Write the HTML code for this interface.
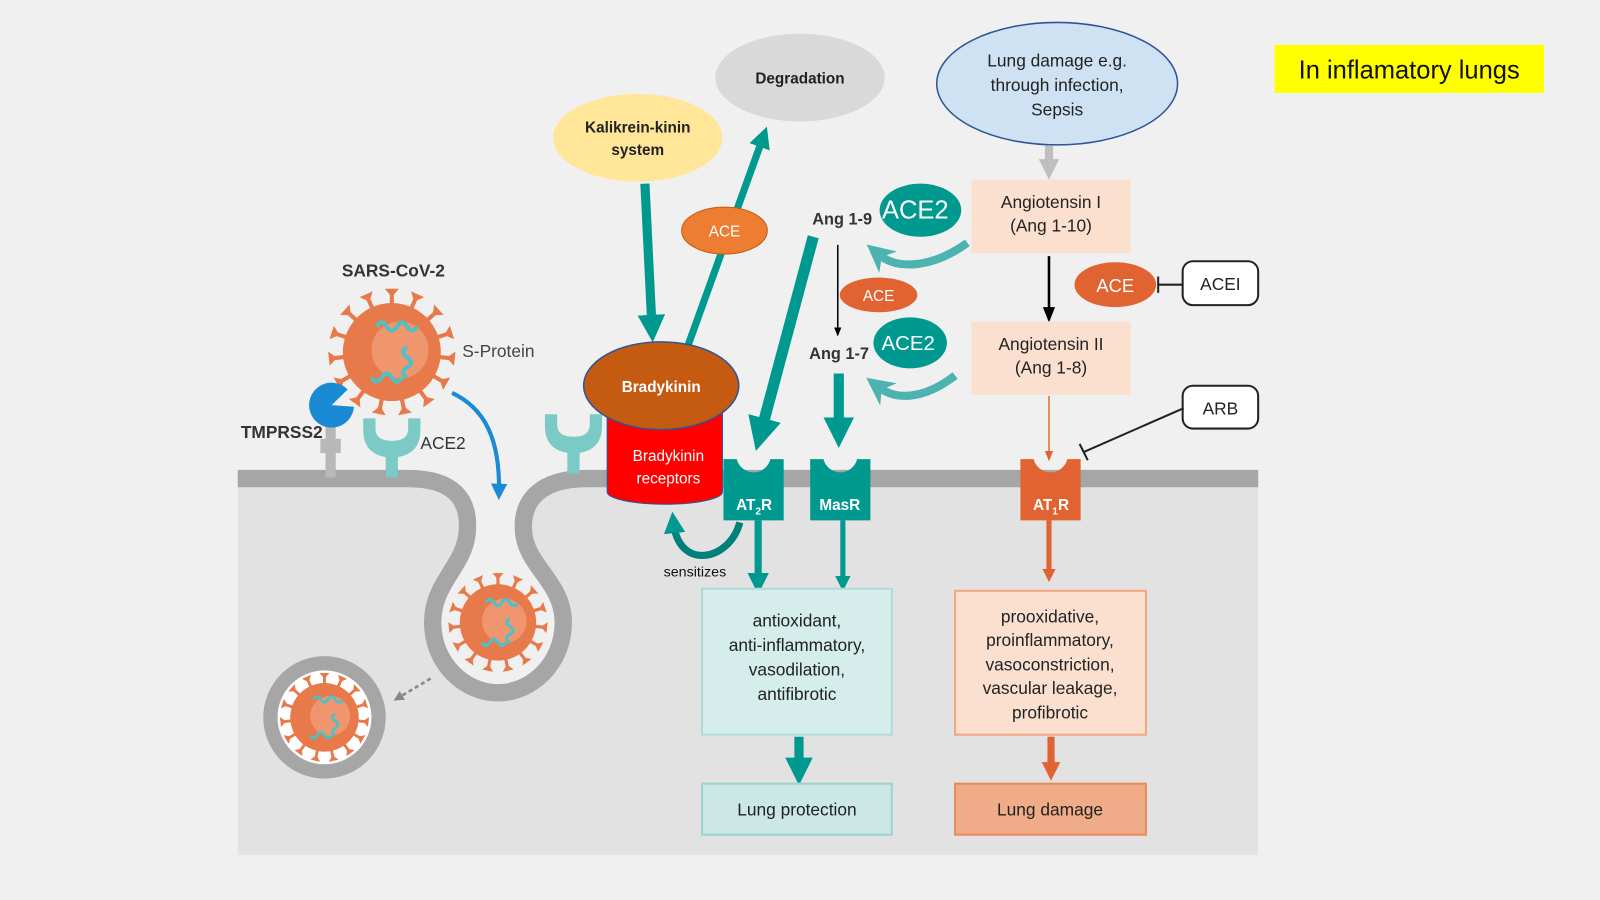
<!DOCTYPE html>
<html><head><meta charset="utf-8"><style>
html,body{margin:0;padding:0;background:#f0f0f0;}
svg{display:block;font-family:"Liberation Sans",sans-serif;}
</style></head><body>
<svg width="1600" height="900" viewBox="0 0 1568 882" xmlns="http://www.w3.org/2000/svg">
<defs>
<marker id="mt" viewBox="0 0 10 10" refX="5" refY="5" markerWidth="3" markerHeight="3" orient="auto"><path d="M0,0 L10,5 L0,10 z" fill="#00998f"/></marker>
<marker id="mlt" viewBox="0 0 10 10" refX="4" refY="5" markerWidth="3.4" markerHeight="3.4" orient="auto"><path d="M0,0 L10,5 L0,10 L3,5 z" fill="#4db3b0"/></marker>
<marker id="mk" viewBox="0 0 10 10" refX="8" refY="5" markerWidth="6" markerHeight="6" orient="auto"><path d="M0,1 L10,5 L0,9 z" fill="#000"/></marker>
<marker id="mo" viewBox="0 0 10 10" refX="8" refY="5" markerWidth="5" markerHeight="5" orient="auto"><path d="M0,1 L10,5 L0,9 z" fill="#e06331"/></marker>
<marker id="mob" viewBox="0 0 10 10" refX="5" refY="5" markerWidth="2.6" markerHeight="2.6" orient="auto"><path d="M0,0 L10,5 L0,10 z" fill="#e06331"/></marker>
<marker id="mg" viewBox="0 0 10 10" refX="5" refY="5" markerWidth="2.5" markerHeight="2.5" orient="auto"><path d="M0,0 L10,5 L0,10 z" fill="#bfbfbf"/></marker>
<marker id="mb" viewBox="0 0 10 10" refX="5" refY="5" markerWidth="4" markerHeight="4" orient="auto"><path d="M0,0 L10,5 L0,10 z" fill="#1a8ad4"/></marker>
<marker id="md" viewBox="0 0 10 10" refX="5" refY="5" markerWidth="4" markerHeight="4" orient="auto"><path d="M0,0 L10,5 L0,10 z" fill="#888"/></marker>
<g id="spike"><line x1="0" y1="0" x2="0" y2="-60" stroke="#e8794a" stroke-width="4"/><path d="M-7,-62 L7,-62 L0,-54 z" fill="#e8794a"/></g>
<g id="virus">
<use href="#spike"/><use href="#spike" transform="rotate(24)"/><use href="#spike" transform="rotate(48)"/><use href="#spike" transform="rotate(72)"/><use href="#spike" transform="rotate(96)"/><use href="#spike" transform="rotate(120)"/><use href="#spike" transform="rotate(144)"/><use href="#spike" transform="rotate(168)"/><use href="#spike" transform="rotate(192)"/><use href="#spike" transform="rotate(216)"/><use href="#spike" transform="rotate(240)"/><use href="#spike" transform="rotate(264)"/><use href="#spike" transform="rotate(288)"/><use href="#spike" transform="rotate(312)"/><use href="#spike" transform="rotate(336)"/>
<circle r="48" fill="#e8794a"/>
<circle cx="8" cy="-2" r="28" fill="#f3a27d" opacity="0.7"/>
<path d="M-15,-25 q5,-8 10,0 q5,8 10,0 q5,-8 10,0 q5,8 10,0 M15,-5 q-8,5 0,10 q8,5 0,10 q-8,5 0,10 M10,25 q-5,8 -10,0 q-5,-8 -10,0 q-5,8 -10,0" fill="none" stroke="#4fc1c6" stroke-width="4"/>
</g>
<g id="recY"><path d="M-28,-22 L-16,-22 L-16,-12 Q-16,0 0,0 Q16,0 16,-12 L16,-22 L28,-22 L28,-10 Q28,12 6,16 L6,36 L-6,36 L-6,16 Q-28,12 -28,-10 z" fill="#7ccac6"/></g>
</defs>

<rect width="1568" height="882" fill="#f0f0f0"/>
<rect x="233" y="465" width="1000" height="373" fill="#e2e2e2"/>
<path d="M233,460 L400,460 C445,469 460,490 458,520 C456,555 424,570 424,610 C424,650 455,679 488,679 C521,679 552,650 552,610 C552,570 515,555 513,520 C511,490 530,460 575,460 L1233,460 L1233,440 L233,440 z" fill="#f0f0f0"/>
<path d="M233,469 L400,469 C445,469 460,490 458,520 C456,555 424,570 424,610 C424,650 455,679 488,679 C521,679 552,650 552,610 C552,570 515,555 513,520 C511,490 530,469 575,469 L1233,469" fill="none" stroke="#a6a6a6" stroke-width="17"/>

<!-- viruses -->
<use href="#virus" transform="translate(384,345)"/>
<g transform="translate(488,610) scale(0.78)"><use href="#virus"/></g>
<circle cx="318" cy="703" r="53" fill="#fff" stroke="#a6a6a6" stroke-width="14"/>
<g transform="translate(318,703) scale(0.7)"><use href="#virus"/></g>
<line x1="422" y1="665" x2="390" y2="684" stroke="#888" stroke-width="2.5" stroke-dasharray="4,3" marker-end="url(#md)"/>

<!-- receptors left -->
<rect x="319" y="418" width="10" height="50" fill="#b8b8b8"/><rect x="314" y="430" width="20" height="14" fill="#b8b8b8"/>
<path d="M325,397 L345,388 A22,22 0 1 0 345,406 z" fill="#1a8ad4" transform="rotate(-20 325 397)"/>
<use href="#recY" transform="translate(384,432)"/>
<use href="#recY" transform="translate(562,428)"/>
<text x="335" y="271" font-size="17" font-weight="bold" fill="#333">SARS-CoV-2</text>
<text x="453" y="350" font-size="17" fill="#444">S-Protein</text>
<text x="236" y="429" font-size="17" font-weight="bold" fill="#333">TMPRSS2</text>
<text x="412" y="440" font-size="17" fill="#333">ACE2</text>
<path d="M443,385 C475,400 490,430 489,482" fill="none" stroke="#1a8ad4" stroke-width="4" marker-end="url(#mb)"/>

<!-- top ellipses -->
<ellipse cx="784" cy="76" rx="83" ry="43" fill="#d9d9d9"/>
<text x="784" y="82" font-size="15" font-weight="bold" text-anchor="middle" fill="#222">Degradation</text>
<ellipse cx="625" cy="135" rx="83" ry="43" fill="#ffe699"/>
<text x="625" y="130" font-size="15" font-weight="bold" text-anchor="middle" fill="#222">Kalikrein-kinin</text>
<text x="625" y="152" font-size="15" font-weight="bold" text-anchor="middle" fill="#222">system</text>
<ellipse cx="1036" cy="82" rx="118" ry="60" fill="#cfe2f3" stroke="#2f5597" stroke-width="1.5"/>
<text x="1036" y="65" font-size="17" text-anchor="middle" fill="#222">Lung damage e.g.</text>
<text x="1036" y="89" font-size="17" text-anchor="middle" fill="#222">through infection,</text>
<text x="1036" y="113" font-size="17" text-anchor="middle" fill="#222">Sepsis</text>
<rect x="1249" y="44" width="264" height="47" fill="#ffff00"/>
<text x="1381" y="77" font-size="25" text-anchor="middle" fill="#111">In inflamatory lungs</text>

<!-- kinin arrows -->
<line x1="632" y1="180" x2="639" y2="322" stroke="#00998f" stroke-width="9" marker-end="url(#mt)"/>
<line x1="673" y1="342" x2="748" y2="134" stroke="#00998f" stroke-width="7" marker-end="url(#mt)"/>
<ellipse cx="710" cy="226" rx="42" ry="23" fill="#ed7d31" stroke="#c55a11"/>
<text x="710" y="232" font-size="15" text-anchor="middle" fill="#fff">ACE</text>

<!-- Bradykinin -->
<path d="M595,405 L595,482 A56,12 0 0 0 708,482 L708,405 z" fill="#ff0000" stroke="#2f5597" stroke-width="1"/>
<ellipse cx="648" cy="378" rx="76" ry="43" fill="#c55a11" stroke="#2f5597" stroke-width="1.5"/>
<text x="648" y="384" font-size="15" font-weight="bold" text-anchor="middle" fill="#fff">Bradykinin</text>
<text x="655" y="452" font-size="15" text-anchor="middle" fill="#fff">Bradykinin</text>
<text x="655" y="474" font-size="15" text-anchor="middle" fill="#fff">receptors</text>

<!-- big teal arrow to AT2R -->
<line x1="797" y1="232" x2="745" y2="426" stroke="#00998f" stroke-width="11" marker-end="url(#mt)"/>
<!-- Ang side -->
<text x="796" y="220" font-size="16" font-weight="bold" fill="#333">Ang 1-9</text>
<ellipse cx="902" cy="206" rx="40" ry="26" fill="#00998f"/>
<text x="897" y="214" font-size="25" text-anchor="middle" fill="#fff">ACE2</text>
<line x1="821" y1="240" x2="821" y2="328" stroke="#000" stroke-width="1.5" marker-end="url(#mk)"/>
<ellipse cx="861" cy="289" rx="38" ry="17" fill="#e06331"/>
<text x="861" y="295" font-size="15" text-anchor="middle" fill="#fff">ACE</text>
<text x="793" y="352" font-size="16" font-weight="bold" fill="#333">Ang 1-7</text>
<ellipse cx="892" cy="336" rx="36" ry="25" fill="#00998f"/>
<text x="890" y="343" font-size="20" text-anchor="middle" fill="#fff">ACE2</text>
<path d="M948,238 C915,262 880,265 862,250" fill="none" stroke="#4db3b0" stroke-width="8" marker-end="url(#mlt)"/>
<path d="M936,368 C905,392 878,392 862,380" fill="none" stroke="#4db3b0" stroke-width="8" marker-end="url(#mlt)"/>
<line x1="822" y1="366" x2="822" y2="424" stroke="#00998f" stroke-width="10" marker-end="url(#mt)"/>

<!-- RAS -->
<line x1="1028" y1="143" x2="1028" y2="166" stroke="#bfbfbf" stroke-width="8" marker-end="url(#mg)"/>
<rect x="952" y="176" width="156" height="72" fill="#fbe0d0"/>
<text x="1030" y="204" font-size="17" text-anchor="middle" fill="#222">Angiotensin I</text>
<text x="1030" y="227" font-size="17" text-anchor="middle" fill="#222">(Ang 1-10)</text>
<line x1="1028" y1="251" x2="1028" y2="313" stroke="#000" stroke-width="2.5" marker-end="url(#mk)"/>
<rect x="952" y="315" width="156" height="72" fill="#fbe0d0"/>
<text x="1030" y="343" font-size="17" text-anchor="middle" fill="#222">Angiotensin II</text>
<text x="1030" y="366" font-size="17" text-anchor="middle" fill="#222">(Ang 1-8)</text>
<ellipse cx="1093" cy="279" rx="40" ry="22" fill="#e06331"/>
<text x="1093" y="286" font-size="18" text-anchor="middle" fill="#fff">ACE</text>
<line x1="1135" y1="279" x2="1159" y2="279" stroke="#222" stroke-width="2"/><line x1="1135" y1="271" x2="1135" y2="287" stroke="#222" stroke-width="2"/>
<rect x="1159" y="256" width="74" height="43" rx="10" fill="#fff" stroke="#222" stroke-width="2"/>
<text x="1196" y="284" font-size="17" text-anchor="middle" fill="#222">ACEI</text>
<rect x="1159" y="378" width="74" height="42" rx="10" fill="#fff" stroke="#222" stroke-width="2"/>
<text x="1196" y="406" font-size="17" text-anchor="middle" fill="#222">ARB</text>
<line x1="1160" y1="400" x2="1062" y2="443" stroke="#222" stroke-width="2"/>
<line x1="1058" y1="435" x2="1066" y2="451" stroke="#222" stroke-width="2"/>
<line x1="1028" y1="388" x2="1028" y2="450" stroke="#e88a5a" stroke-width="2" marker-end="url(#mo)"/>

<!-- receptors -->
<path d="M709,450 L722,450 A17,17 0 0 0 755,450 L768,450 L768,510 L709,510 z" fill="#00998f"/>
<text x="739" y="500" font-size="15" font-weight="bold" text-anchor="middle" fill="#fff">AT<tspan font-size="10" dy="4">2</tspan><tspan dy="-4">R</tspan></text>
<path d="M794,450 L807,450 A17,17 0 0 0 840,450 L853,450 L853,510 L794,510 z" fill="#00998f"/>
<text x="823" y="500" font-size="15" font-weight="bold" text-anchor="middle" fill="#fff">MasR</text>
<path d="M1000,450 L1013,450 A17,17 0 0 0 1046,450 L1059,450 L1059,510 L1000,510 z" fill="#e06331"/>
<text x="1030" y="500" font-size="15" font-weight="bold" text-anchor="middle" fill="#fff">AT<tspan font-size="10" dy="4">1</tspan><tspan dy="-4">R</tspan></text>

<line x1="743" y1="510" x2="743" y2="572" stroke="#00998f" stroke-width="7" marker-end="url(#mt)"/>
<line x1="826" y1="510" x2="826" y2="572" stroke="#00998f" stroke-width="5" marker-end="url(#mt)"/>
<line x1="1028" y1="510" x2="1028" y2="564" stroke="#e06331" stroke-width="5" marker-end="url(#mob)"/>
<path d="M725,512 C715,550 665,560 660,512" fill="none" stroke="#00807a" stroke-width="7" marker-end="url(#mt)"/>
<text x="681" y="565" font-size="14" text-anchor="middle" fill="#111">sensitizes</text>

<!-- outcome boxes -->
<rect x="688" y="577" width="186" height="143" fill="#d5eeeb" stroke="#b0dcd8" stroke-width="2"/>
<text x="781" y="614" font-size="17" text-anchor="middle" fill="#222">antioxidant,</text>
<text x="781" y="638" font-size="17" text-anchor="middle" fill="#222">anti-inflammatory,</text>
<text x="781" y="662" font-size="17" text-anchor="middle" fill="#222">vasodilation,</text>
<text x="781" y="686" font-size="17" text-anchor="middle" fill="#222">antifibrotic</text>
<line x1="783" y1="722" x2="783" y2="756" stroke="#00998f" stroke-width="9" marker-end="url(#mt)"/>
<rect x="688" y="768" width="186" height="50" fill="#cbe8e6" stroke="#9dd3cf" stroke-width="2"/>
<text x="781" y="799" font-size="17" text-anchor="middle" fill="#222">Lung protection</text>
<rect x="936" y="579" width="187" height="141" fill="#fbe0d0" stroke="#f4a582" stroke-width="2"/>
<text x="1029" y="610" font-size="17" text-anchor="middle" fill="#222">prooxidative,</text>
<text x="1029" y="633" font-size="17" text-anchor="middle" fill="#222">proinflammatory,</text>
<text x="1029" y="657" font-size="17" text-anchor="middle" fill="#222">vasoconstriction,</text>
<text x="1029" y="680" font-size="17" text-anchor="middle" fill="#222">vascular leakage,</text>
<text x="1029" y="704" font-size="17" text-anchor="middle" fill="#222">profibrotic</text>
<line x1="1030" y1="722" x2="1030" y2="756" stroke="#e06331" stroke-width="7" marker-end="url(#mob)"/>
<rect x="936" y="768" width="187" height="50" fill="#f0ac88" stroke="#e88a5a" stroke-width="2"/>
<text x="1029" y="799" font-size="17" text-anchor="middle" fill="#222">Lung damage</text>
</svg>
</body></html>
